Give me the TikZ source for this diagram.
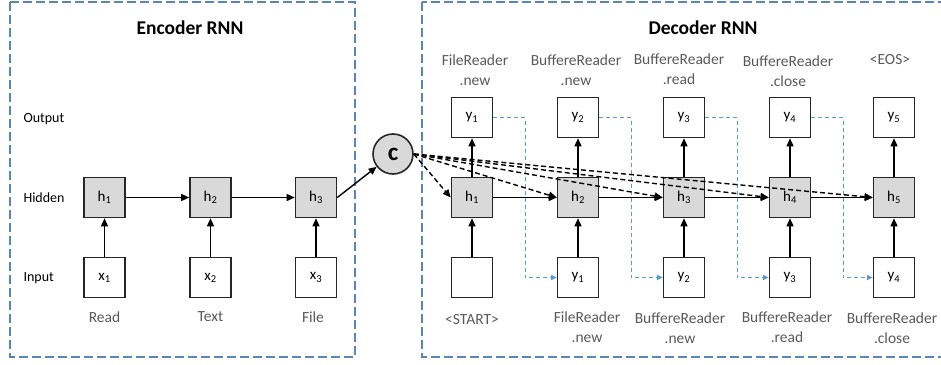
\documentclass[tikz,border=0pt]{standalone}
\usepackage{fontspec}
\setmainfont{Carlito}
\usetikzlibrary{arrows.meta}
\definecolor{encblue}{HTML}{5A86B6}
\definecolor{lblue}{HTML}{5B9BD5}
\definecolor{boxgray}{HTML}{D9D9D9}
\definecolor{txtgray}{HTML}{595959}
\begin{document}
\begin{tikzpicture}[x=1pt,y=-1pt,
 cell/.style={draw=black!85, line width=1.6pt, minimum width=41pt, minimum height=40pt, inner sep=0pt, font=\fontsize{15}{17}\selectfont, fill=white},
 hid/.style={cell, fill=boxgray},
 arr/.style={-{Triangle[length=8pt,width=7pt]}, line width=1.4pt},
 att/.style={arr, dash pattern=on 5pt off 3pt},
 fb/.style={draw=lblue, line width=1.5pt, dash pattern=on 4pt off 3pt, -{Triangle[length=5.5pt,width=5pt]}},
 rowlab/.style={anchor=west, font=\fontsize{14}{16}\selectfont},
 wlab/.style={text=txtgray, align=center, font=\fontsize{15.5}{20}\selectfont},
 title/.style={font=\fontsize{19.5}{22}\selectfont\bfseries},
 panel/.style={draw=encblue, line width=1.5pt, dash pattern=on 9pt off 4pt},
 ]
\useasboundingbox (0,0) rectangle (941,364);
% panels
\draw[panel] (10,2) rectangle (355,357);
\draw[panel] (422,2) rectangle (960,357);
\node[title] (enct) at (190,28) {Encoder RNN};
\node[title] (dect) at (703,28) {Decoder RNN};
% row labels
\node[rowlab] (lout) at (20,119) {Output};
\node[rowlab] (lhid) at (20,198) {Hidden};
\node[rowlab] (lin) at (20,278) {Input};
% encoder
\node[hid] (eh1) at (104.5,197.5) {h\textsubscript{1}};
\node[hid] (eh2) at (210.5,197.5) {h\textsubscript{2}};
\node[hid] (eh3) at (316,197.5) {h\textsubscript{3}};
\node[cell] (ex1) at (104.5,277.5) {x\textsubscript{1}};
\node[cell] (ex2) at (210.5,277.5) {x\textsubscript{2}};
\node[cell] (ex3) at (316,277.5) {x\textsubscript{3}};
\node[wlab] (w1) at (104.5,317) {Read};
\node[wlab] (w2) at (210.5,317) {Text};
\node[wlab] (w3) at (313,317) {File};
% context
\node[circle, draw=black!85, line width=1.6pt, fill=boxgray, minimum size=40pt, inner sep=0pt, font=\fontsize{25}{27}\selectfont\bfseries] (c) at (393,154) {c};
% decoder
\foreach \i/\x in {1/472,2/578,3/684,4/790,5/894}{
  \node[hid] (dh\i) at (\x,197.5) {h\textsubscript{\i}};
  \node[cell] (dy\i) at (\x,117.5) {y\textsubscript{\i}};
}
\node[cell] (ds) at (472,277.5) {};
\foreach \i/\x in {1/578,2/684,3/790,4/894}{
  \node[cell] (db\i) at (\x,277.5) {y\textsubscript{\i}};
}
% top labels
\node[wlab] (t1) at (475,70) {FileReader\\.new};
\node[wlab] (t2) at (576,70) {BuffereReader\\.new};
\node[wlab] (t3) at (679,69) {BuffereReader\\.read};
\node[wlab] (t4) at (788,71) {BuffereReader\\.close};
\node[wlab] (t5) at (890,60) {<EOS>};
% bottom labels
\node[wlab] (b0) at (472,320) {<START>};
\node[wlab] (b1) at (587,327.5) {FileReader\\.new};
\node[wlab] (b2) at (680,328) {BuffereReader\\.new};
\node[wlab] (b3) at (787,327.5) {BuffereReader\\.read};
\node[wlab] (b4) at (892,328) {BuffereReader\\.close};
% encoder arrows
\draw[arr] (ex1) -- (eh1);
\draw[arr] (ex2) -- (eh2);
\draw[arr] (ex3) -- (eh3);
\draw[arr] (eh1) -- (eh2);
\draw[arr] (eh2) -- (eh3);
\draw[arr] (eh3.east) -- (c);
% decoder arrows
\foreach \i in {1,...,5}{ \draw[arr] (dh\i) -- (dy\i); }
\draw[arr] (ds) -- (dh1);
\foreach \i/\j in {1/2,2/3,3/4,4/5}{
  \draw[arr] (db\i) -- (dh\j);
  \draw[arr] (dh\i) -- (dh\j);
  \draw[fb] (dy\i.east) -- ++(32,0) |- (db\i.west);
}
% attention
\foreach \i in {1,...,5}{ \draw[att] (c.east) -- (dh\i.west); }
\end{tikzpicture}
\end{document}
